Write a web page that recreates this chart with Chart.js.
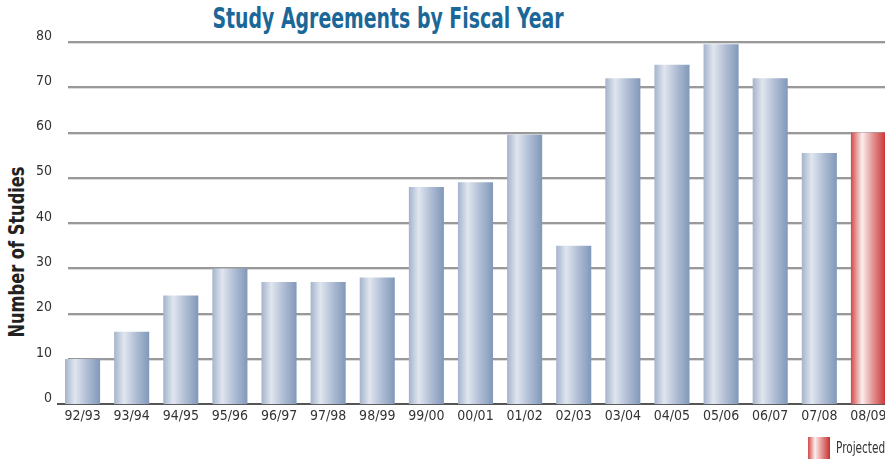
<!DOCTYPE html>
<html lang="en">
<head>
    <meta charset="UTF-8">
    <title>Study Agreements by Fiscal Year</title>
    <script src="https://cdn.jsdelivr.net/npm/chart.js"></script>
    <style>
        body {
            margin: 0;
            width: 885px;
            height: 464px;
            overflow: hidden;
            position: relative;
            background: #fff;
            font-family: 'DejaVu Sans Condensed', 'Liberation Sans', sans-serif;
        }
        canvas {
            position: absolute;
            left: 0;
            top: 0;
        }
        h1 {
            position: absolute;
            margin: 0;
            left: 388px;
            top: 1px;
            transform: translateX(-50%) scaleX(0.75);
            font-size: 28px;
            line-height: 36px;
            font-weight: bold;
            color: #1b6898;
            white-space: nowrap;
        }
        .ytitle {
            position: absolute;
            left: 16px;
            top: 252px;
            transform: translate(-50%, -50%) rotate(-90deg) scaleX(0.82);
            font-size: 22px;
            font-weight: bold;
            color: #222;
            white-space: nowrap;
        }
        .legend {
            position: absolute;
            left: 808px;
            top: 437px;
            display: flex;
            align-items: center;
            white-space: nowrap;
        }
        .legend .box {
            width: 22px;
            height: 22px;
            background: linear-gradient(to right, #d24848 0%, #fbeeee 32%, #e49595 62%, #c93030 100%);
        }
        .legend .txt {
            margin-left: 6px;
            font-size: 15px;
            color: #333;
            transform: scaleX(0.78);
            transform-origin: left center;
        }
    </style>
</head>
<body>
    <h1>Study Agreements by Fiscal Year</h1>
    <div class="ytitle">Number of Studies</div>
    <canvas id="studyChart" width="893" height="464"></canvas>
    <div class="legend"><span class="box"></span><span class="txt">Projected</span></div>

    <script>
        const years = ['92/93', '93/94', '94/95', '95/96', '96/97', '97/98', '98/99', '99/00', '00/01',
                       '01/02', '02/03', '03/04', '04/05', '05/06', '06/07', '07/08', '08/09'];
        const studies = [10, 16, 24, 30, 27, 27, 28, 48, 49, 59.5, 35, 72, 75, 79.5, 72, 55.5, 60];
        const projectedYears = ['08/09'];
        const yTicks = [0, 10, 20, 30, 40, 50, 60, 70, 80];

        const fontFamily = "'DejaVu Sans Condensed', 'Liberation Sans', sans-serif";
        const barPct = 0.714;

        // horizontal "cylinder" shading for each bar
        function barFill(context) {
            const chart = context.chart;
            const projected = projectedYears.includes(years[context.dataIndex]);
            if (context.type !== 'data' || !chart.chartArea) {
                return projected ? '#d24848' : '#a9b8d0';
            }
            const xScale = chart.scales.x;
            const cx = xScale.getPixelForValue(context.dataIndex);
            const w = xScale.width / years.length * barPct;
            const g = chart.ctx.createLinearGradient(cx - w / 2, 0, cx + w / 2, 0);
            if (projected) {
                g.addColorStop(0, '#d24848');
                g.addColorStop(0.32, '#fbeeee');
                g.addColorStop(0.62, '#e49595');
                g.addColorStop(1, '#c93030');
            } else {
                g.addColorStop(0, '#a4b3cc');
                g.addColorStop(0.28, '#e0e6ef');
                g.addColorStop(0.6, '#b3c0d6');
                g.addColorStop(1, '#8198b9');
            }
            return g;
        }

        // grid lines start a little right of the axis, like the original
        const gridLines = {
            id: 'gridLines',
            beforeDatasetsDraw(chart) {
                const { ctx, chartArea, scales } = chart;
                ctx.save();
                yTicks.forEach(v => {
                    if (v === 0) return;
                    const y = Math.round(scales.y.getPixelForValue(v));
                    ctx.fillStyle = '#999';
                    ctx.fillRect(68, y - 1, chartArea.right - 68, 2);
                    ctx.fillStyle = '#dcdcdc';
                    ctx.fillRect(68, y + 1, chartArea.right - 68, 1);
                });
                ctx.restore();
            }
        };

        new Chart(document.getElementById('studyChart'), {
            type: 'bar',
            data: {
                labels: years,
                datasets: [{
                    label: 'Number of Studies',
                    data: studies,
                    backgroundColor: barFill,
                    borderWidth: 0,
                    categoryPercentage: 1,
                    barPercentage: barPct
                }]
            },
            options: {
                responsive: false,
                devicePixelRatio: 1,
                animation: false,
                layout: {
                    padding: { top: 42, bottom: 35, left: 0, right: 0 }
                },
                plugins: {
                    legend: { display: false },
                    tooltip: { enabled: false },
                    title: { display: false }
                },
                scales: {
                    x: {
                        grid: { display: false, drawTicks: false },
                        border: { display: true, color: '#555', width: 2 },
                        ticks: {
                            color: '#333',
                            padding: 4,
                            autoSkip: false,
                            maxRotation: 0,
                            font: { family: fontFamily, size: 14 }
                        }
                    },
                    y: {
                        min: 0,
                        max: 80,
                        afterBuildTicks: scale => {
                            scale.ticks = yTicks.map(v => ({ value: v }));
                        },
                        afterFit: scale => {
                            scale.width = 58;
                        },
                        grid: { display: false, drawTicks: false },
                        border: { display: false },
                        ticks: {
                            color: '#333',
                            padding: 6,
                            labelOffset: -6,
                            font: { family: fontFamily, size: 14 }
                        }
                    }
                }
            },
            plugins: [gridLines]
        });
    </script>
</body>
</html>
